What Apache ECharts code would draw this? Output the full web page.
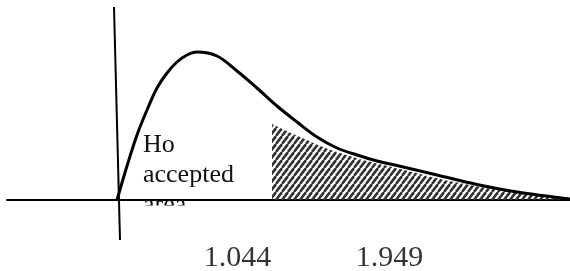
<!DOCTYPE html>
<html>
<head>
<meta charset="utf-8">
<script src="https://cdn.jsdelivr.net/npm/echarts@6/dist/echarts.min.js"></script>
<style>
html,body{margin:0;padding:0;background:#fff;}
#chart{width:570px;height:271px;}
</style>
</head>
<body>
<div id="chart"></div>
<script>
// Density curve (schematic F distribution), x in arbitrary units, y = density height
const curveX = [0, 0.1, 0.2, 0.3, 0.4, 0.5, 0.6, 0.7, 0.8, 1.0, 1.2, 1.4, 1.6, 1.8, 2.0, 2.2, 2.4, 2.6, 2.8, 3.2, 3.6, 4.0, 4.53];
const curveY = [0, 0.34, 0.65, 0.90, 1.12, 1.27, 1.38, 1.45, 1.48, 1.44, 1.29, 1.12, 0.94, 0.78, 0.63, 0.52, 0.45, 0.39, 0.345, 0.25, 0.155, 0.08, 0.01];
// Hatched rejection region top edge
const hatchX = [1.55, 1.83, 2.23, 2.83, 3.53, 4.53];
const hatchY = [0.76, 0.63, 0.47, 0.31, 0.15, 0.00];
// Vertical axis (slightly tilted) end points
const vAxisX = [-0.03, 0.03];
const vAxisY = [1.93, -0.40];
// Tick labels under the axis
const tickValues = [1.205, 2.725];
const tickLevel = -0.58;
const tickLabels = ['1.044', '1.949'];
const regionText = ['Ho', 'accepted', 'area'];

function zip(a, b) { return a.map((v, i) => [v, b[i]]); }

// diagonal hatch pattern
const pat = document.createElement('canvas');
const pw = 6, ph = 8;
pat.width = pw; pat.height = ph;
const pc = pat.getContext('2d');
pc.strokeStyle = '#333';
pc.lineWidth = 2.6;
for (let k = -1; k <= 1; k++) {
  pc.beginPath();
  pc.moveTo(k * pw, ph);
  pc.lineTo(k * pw + pw, 0);
  pc.stroke();
}

const chart = echarts.init(document.getElementById('chart'), null, {renderer: 'canvas'});
const serif = '"Liberation Serif", "Times New Roman", serif';
chart.setOption({
  animation: false,
  backgroundColor: '#fff',
  grid: {left: 7, right: 0, top: 0, bottom: 0, containLabel: false, outerBoundsMode: 'none'},
  xAxis: {
    type: 'value', min: -1.10, max: 4.53,
    splitLine: {show: false},
    axisLine: {show: true, onZero: true, lineStyle: {color: '#000', width: 2}},
    axisTick: {show: false},
    axisLabel: {show: false}
  },
  yAxis: {
    type: 'value', min: -0.71, max: 2.00,
    show: false, splitLine: {show: false}
  },
  series: [
    {
      type: 'line', name: 'rejection', data: zip(hatchX, hatchY),
      showSymbol: false, smooth: true,
      lineStyle: {width: 0},
      areaStyle: {color: {image: pat, repeat: 'repeat'}, opacity: 1},
      z: 1
    },
    {
      type: 'line', name: 'density', data: zip(curveX, curveY),
      showSymbol: false, smooth: 0.35,
      lineStyle: {color: '#000', width: 3},
      z: 3
    },
    {
      type: 'line', name: 'vaxis', data: zip(vAxisX, vAxisY),
      showSymbol: false,
      lineStyle: {color: '#000', width: 2},
      z: 3
    },
    {
      type: 'scatter', name: 'ticks', symbolSize: 0,
      data: tickValues.map((v, i) => ({value: [v, tickLevel], name: tickLabels[i]})),
      label: {
        show: true, position: 'inside', formatter: p => p.name,
        color: '#000', fontFamily: serif, fontSize: 30
      },
      silent: true, z: 4
    }
  ],
  graphic: [
    {
      type: 'text', left: 143, top: 130, z: 10,
      style: {text: regionText.join('\n'), font: '26px ' + serif, lineHeight: 30, fill: '#111'}
    },
    {
      type: 'rect', shape: {x: 125, y: 205.5, width: 140, height: 30}, z: 11,
      style: {fill: '#fff'}
    }
  ]
});
</script>
</body>
</html>
